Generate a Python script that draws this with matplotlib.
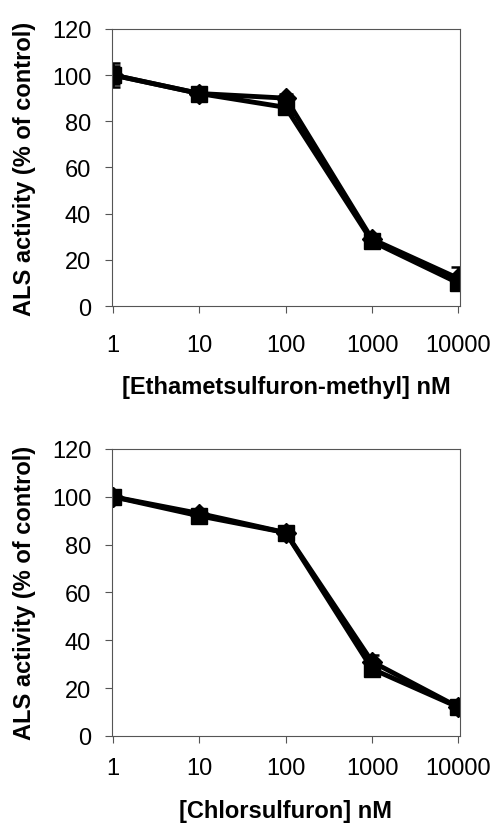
import matplotlib
matplotlib.use("Agg")
import matplotlib.pyplot as plt
import numpy as np

plt.rcParams['font.family'] = ['Liberation Sans', 'DejaVu Sans']

# Концентрації гербіцидів (nM)
conc = [1, 10, 100, 1000, 10000]

# Етаметсульфурон-метил
eth_a = [100, 92, 90, 29, 12]
eth_a_err = [5, 2, 2, 2, 5]
eth_b = [100, 92, 86, 28, 10]
eth_b_err = [4, 2, 2, 2, 3]

# Хлорсульфурон
chl_a = [100, 93, 85, 31, 12]
chl_a_err = [2, 2, 2, 3, 2]
chl_b = [100, 92, 85, 28, 12]
chl_b_err = [2, 2, 2, 2, 2]

yticks = [0, 20, 40, 60, 80, 100, 120]
xlabels = ["[Ethametsulfuron-methyl] nM", "[Chlorsulfuron] nM"]

fig = plt.figure(figsize=(4.97, 8.28), dpi=100)
ax1 = fig.add_axes([0.2253, 0.629, 0.700, 0.335])
ax2 = fig.add_axes([0.2253, 0.110, 0.700, 0.3466])

panels = [(ax1, eth_a, eth_a_err, eth_b, eth_b_err, xlabels[0], 15),
          (ax2, chl_a, chl_a_err, chl_b, chl_b_err, xlabels[1], 10.5)]

for ax, ya, ea, yb, eb, xl, xpad in panels:
    ax.errorbar(conc, ya, yerr=ea, color='black', lw=3.5, marker='D', ms=10,
                capsize=5, elinewidth=1.8, capthick=1.8)
    ax.errorbar(conc, yb, yerr=eb, color='black', lw=3.5, marker='s', ms=12,
                capsize=5, elinewidth=1.8, capthick=1.8)
    ax.set_xscale('log')
    ax.set_xlim(0.97, 10400)
    ax.set_ylim(0, 120)
    ax.set_yticks(yticks)
    ax.set_xticks(conc)
    ax.set_xticklabels([str(c) for c in conc])
    ax.minorticks_off()
    ax.tick_params(axis='both', labelsize=17, length=5, width=0.8, color='#555555')
    ax.tick_params(axis='x', pad=xpad)
    ax.tick_params(axis='y', pad=10)
    for s in ax.spines.values():
        s.set_linewidth(0.8)
        s.set_color('#555555')
    ax.set_xlabel(xl, fontsize=17, fontweight='bold', labelpad=14)
    ax.set_ylabel("ALS activity (% of control)", fontsize=17, fontweight='bold', labelpad=11)

fig.savefig("out.png", dpi=100)
